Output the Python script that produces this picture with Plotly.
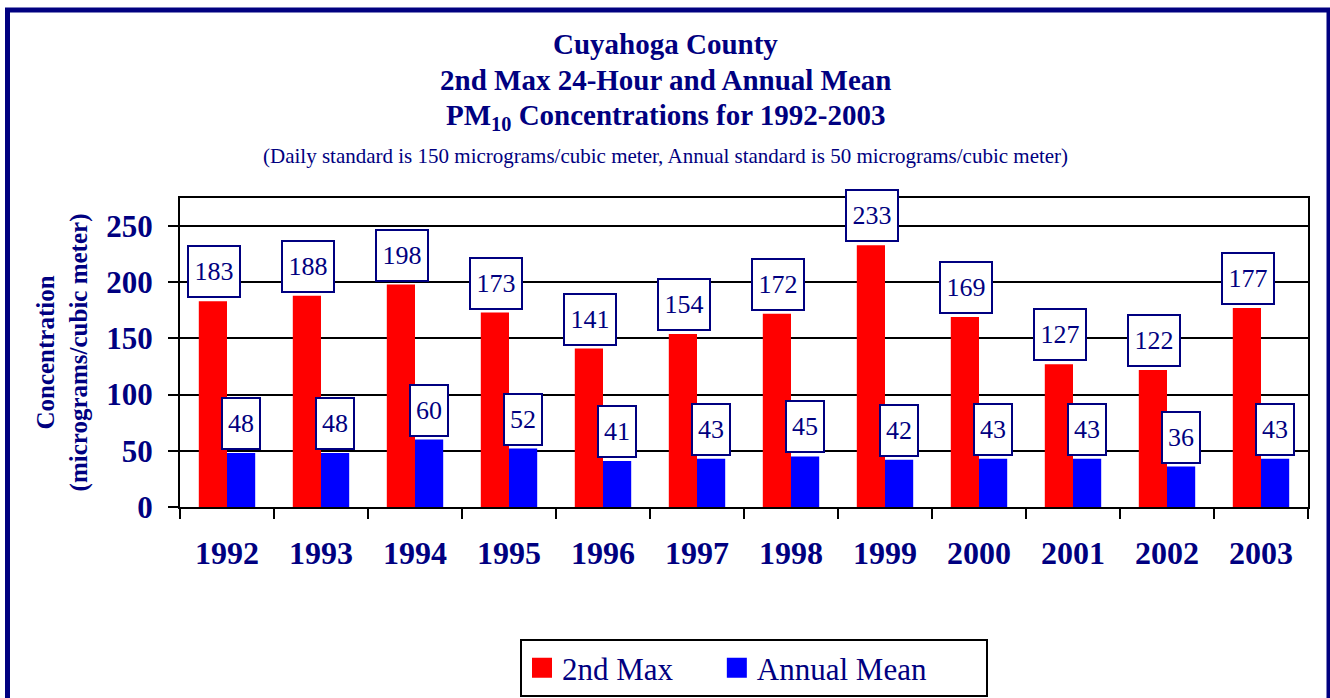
import plotly.graph_objects as go

years = ["1992", "1993", "1994", "1995", "1996", "1997", "1998", "1999", "2000", "2001", "2002", "2003"]
second_max = [183, 188, 198, 173, 141, 154, 172, 233, 169, 127, 122, 177]
annual_mean = [48, 48, 60, 52, 41, 43, 45, 42, 43, 43, 36, 43]
y_ticks = [0, 50, 100, 150, 200, 250]

NAVY = "#000080"
RED = "#FF0000"
BLUE = "#0000FF"
FONT = "Liberation Serif, Times New Roman, serif"

W, H = 1330, 698
L, R, T, B = 180, 22, 198, 191
PW, PH = W - L - R, H - T - B


def px_x(p):
    return (p - L) / PW


def px_y(p):
    return (H - B - p) / PH


fig = go.Figure()
fig.add_trace(go.Bar(x=years, y=second_max, name="2nd Max", showlegend=False,
                     marker=dict(color=RED, line=dict(width=0))))
fig.add_trace(go.Bar(x=years, y=annual_mean, name="Annual Mean", showlegend=False,
                     marker=dict(color=BLUE, line=dict(width=0))))
# legend entries (larger square swatches than the bar legend icon)
for nm, col, pad in (("2nd Max", RED, 5), ("Annual Mean", BLUE, 7)):
    fig.add_trace(go.Scatter(x=[None], y=[None], mode="markers", name=nm + "\u00a0" * pad,
                             marker=dict(symbol="square", size=16, color=col,
                                         line=dict(color=col, width=4))))

annotations = []
for series, shift in ((second_max, -13.5), (annual_mean, 13.5)):
    for i, v in enumerate(series):
        annotations.append(dict(
            x=i, y=v, xref="x", yref="y", text=str(v), showarrow=False,
            xanchor="center", yanchor="bottom", xshift=shift, yshift=3,
            font=dict(family=FONT, size=26, color=NAVY),
            bgcolor="white", bordercolor=NAVY, borderwidth=2, borderpad=4,
            width=42 if v >= 100 else 28, height=41,
        ))

title_lines = [
    ("<b>Cuyahoga County</b>", 44, 29),
    ("<b>2nd Max 24-Hour and Annual Mean</b>", 80, 29),
    ("<b>PM<sub>10</sub> Concentrations for 1992-2003</b>", 117, 29),
    ("(Daily standard is 150 micrograms/cubic meter, Annual standard is 50 micrograms/cubic meter)", 156, 21),
]
for txt, yc, sz in title_lines:
    annotations.append(dict(
        x=px_x(665), y=px_y(yc), xref="paper", yref="paper", text=txt, showarrow=False,
        xanchor="center", yanchor="middle", font=dict(family=FONT, size=sz, color=NAVY),
    ))

fig.update_layout(
    width=W, height=H,
    margin=dict(l=L, r=R, t=T, b=B, autoexpand=False),
    paper_bgcolor="white", plot_bgcolor="white",
    barmode="group", bargap=0.4, bargroupgap=0,
    font=dict(family=FONT, color=NAVY),
    annotations=annotations,
    showlegend=True,
    legend=dict(
        orientation="h", x=px_x(520), xanchor="left", y=px_y(639), yanchor="top",
        font=dict(family=FONT, size=31, color=NAVY),
        bordercolor="black", borderwidth=2, bgcolor="white",
        itemwidth=30, tracegroupgap=0,
    ),
    shapes=[dict(
        type="rect", xref="paper", yref="paper",
        x0=px_x(7.5), x1=px_x(1329), y0=px_y(740), y1=px_y(10),
        line=dict(color=NAVY, width=5), layer="below",
    )],
)

fig.update_xaxes(
    type="category", categoryorder="array", categoryarray=years,
    showline=True, linecolor="black", linewidth=2, mirror=True,
    ticks="outside", tickson="boundaries", ticklen=10, tickwidth=2, tickcolor="black",
    tickfont=dict(family=FONT, size=32, color=NAVY), ticklabelstandoff=17, tickangle=0,
    showgrid=False, fixedrange=True,
    tickprefix="<b>", ticksuffix="</b>",
)
fig.update_yaxes(
    range=[0, 275], tickvals=y_ticks, ticktext=[f"<b>{v}</b>" for v in y_ticks],
    showline=True, linecolor="black", linewidth=2, mirror=True,
    ticks="outside", ticklen=10, tickwidth=2, tickcolor="black",
    tickfont=dict(family=FONT, size=31, color=NAVY), ticklabelstandoff=9,
    showgrid=True, gridcolor="black", gridwidth=2, zeroline=False,
    title=dict(text="<b>Concentration<br>(micrograms/cubic meter)</b>",
               font=dict(family=FONT, size=25, color=NAVY), standoff=12),
    fixedrange=True,
)

fig.write_html("out.html", config={"displayModeBar": False},
               post_script="document.body.style.margin='0px';")
